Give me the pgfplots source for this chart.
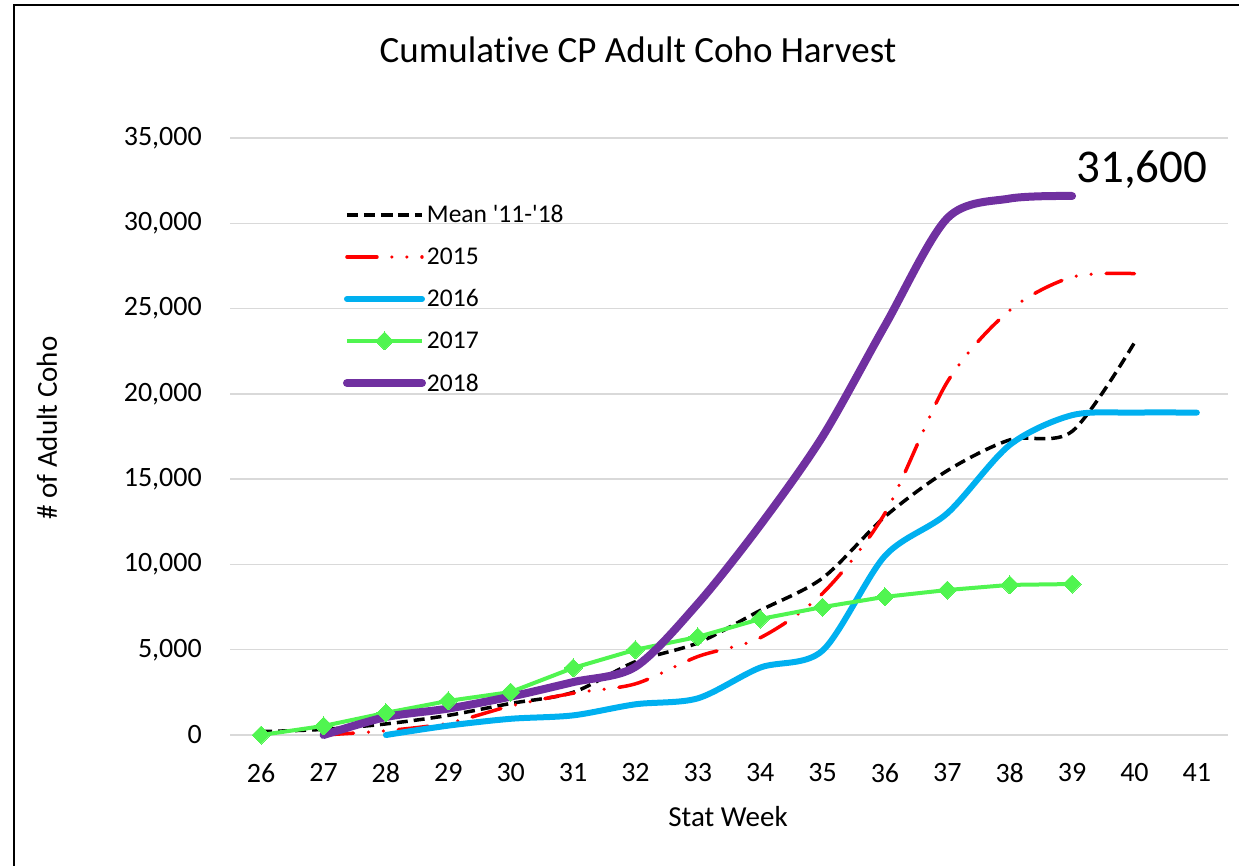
\documentclass[border=0pt]{standalone}
\usepackage{fontspec}
\setmainfont{Carlito}[Ligatures={NoCommon}]
\newfontfamily\nomap{Carlito}[Ligatures={NoCommon}, Mapping=]
\usepackage{pgfplots}
\pgfplotsset{compat=1.18}
\definecolor{gridgray}{RGB}{217,217,217}
\definecolor{c2016}{RGB}{0,176,240}
\definecolor{c2017}{RGB}{80,245,80}
\definecolor{c2018}{RGB}{112,48,160}
\begin{document}
\begin{tikzpicture}
\useasboundingbox (0pt,0pt) rectangle (1239pt,865pt);
\draw[line width=2.5pt] (14pt,-20pt) -- (14pt,860pt) -- (1260pt,860pt);
\node[font=\fontsize{37}{44}\selectfont] at (638pt,815pt) {Cumulative CP Adult Coho Harvest};
\node[font=\fontsize{29}{35}\selectfont] at (728pt,48pt) {Stat Week};
\node[font=\fontsize{29}{35}\selectfont, rotate=90] at (47pt,437pt) {\# of Adult Coho};
\begin{axis}[
  at={(230pt,130pt)}, anchor=south west,
  scale only axis, width=998pt, height=597pt,
  xmin=25.5, xmax=41.5, ymin=0, ymax=35000,
  scaled y ticks=false,
  clip=false,
  axis line style={draw=none},
  major tick length=0pt,
  ymajorgrids, grid style={gridgray, line width=1.5pt},
  xtick={26,27,28,29,30,31,32,33,34,35,36,37,38,39,40,41},
  xticklabels={26,27,28,29,30,31,32,33,34,35,36,37,38,39,40,41},
  ytick={0,5000,10000,15000,20000,25000,30000,35000},
  yticklabels={0,{5,000},{10,000},{15,000},{20,000},{25,000},{30,000},{35,000}},
  tick label style={font=\fontsize{28}{34}\selectfont, inner sep=0pt},
  yticklabel style={anchor=east, xshift=-28pt},
  xticklabel style={anchor=north, yshift=-28pt},
  legend image code/.code={\draw[mark repeat=2,mark phase=2,#1] plot coordinates {(0pt,0pt) (37.5pt,0pt) (75pt,0pt)};},
  legend style={at={(0.113,0.889)}, anchor=north west, draw=none, fill=none,
    inner sep=0pt, row sep=21.6pt, font=\fontsize{25.5}{30}\selectfont,
    nodes={inner sep=1pt}},
  legend cell align=left,
]
\addplot[black, line width=3.5pt, dash pattern=on 11pt off 6pt, smooth] coordinates {
(26,200) (27,330) (28,650) (29,1150) (30,1850) (31,2500) (32,4300) (33,5400) (34,7300) (35,9200) (36,12800) (37,15500) (38,17300) (39,17800) (40,23000)};
\addlegendentry{Mean {\nomap\char"0027}11-{\nomap\char"0027}18}
\addplot[red, line width=3.5pt, line cap=round, dash pattern=on 30pt off 15pt on 0pt off 15pt on 0pt off 15pt, smooth] coordinates {
(27,0) (28,250) (29,700) (30,1700) (31,2450) (32,3000) (33,4600) (34,5700) (35,8300) (36,13000) (37,20700) (38,24900) (39,26850) (40,27050)};
\addlegendentry{2015}
\addplot[c2016, line width=6pt, line cap=round, smooth] coordinates {
(28,0) (29,550) (30,950) (31,1150) (32,1800) (33,2150) (34,3950) (35,4950) (36,10500) (37,13000) (38,17000) (39,18750) (40,18900) (41,18900)};
\addlegendentry{2016}
\addplot[c2017, line width=4pt, mark=diamond*, mark size=9pt, mark options={fill=c2017, draw=c2017, line width=0pt, xscale=1.33}] coordinates {
(26,0) (27,530) (28,1300) (29,2000) (30,2520) (31,3930) (32,5000) (33,5750) (34,6800) (35,7500) (36,8100) (37,8500) (38,8800) (39,8850)};
\addlegendentry{2017}
\addplot[c2018, line width=8pt, line cap=round, smooth] coordinates {
(27,0) (28,1050) (29,1550) (30,2250) (31,3100) (32,4000) (33,7700) (34,12300) (35,17500) (36,24000) (37,30300) (38,31450) (39,31600)};
\addlegendentry{2018}
\node[font=\fontsize{47}{56}\selectfont] at (axis cs:40.12,33125) {31,600};
\end{axis}
\end{tikzpicture}
\end{document}
